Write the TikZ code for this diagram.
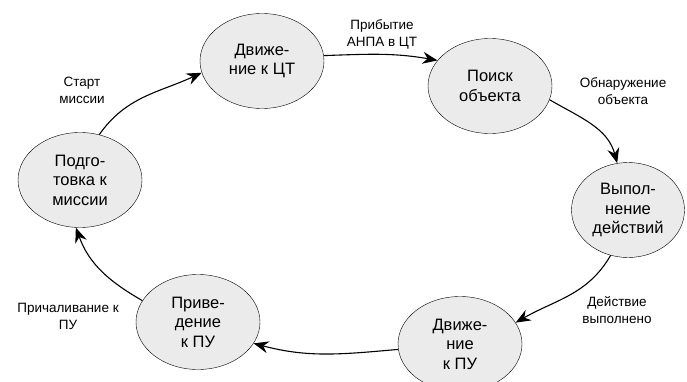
\documentclass[tikz,border=0pt]{standalone}
\usepackage{fontspec}
\setmainfont{Liberation Sans}
\usepackage{tikz}
\usetikzlibrary{arrows.meta, positioning, shapes.geometric}
\definecolor{phasefill}{RGB}{235,235,235}

\begin{document}
\begin{tikzpicture}[
      x=1pt, y=1pt,
      phase/.style={ellipse, draw, thin, fill=phasefill, inner sep=0pt,
                    minimum width=124pt, minimum height=95pt, align=center,
                    font=\fontsize{16.5}{19.5}\selectfont},
      trans/.style={align=center, font=\fontsize{13.5}{17}\selectfont},
      arrow/.style={-{Stealth[length=15pt, width=12pt, inset=5pt]}, line width=1.1pt}
    ]
    \useasboundingbox (0,0) rectangle (687,381);

    \node[phase] (prep) at (80,201) {Подго-\\товка к\\миссии};
    \node[phase] (gotarget) at (262,320) {Движе-\\ние к ЦТ};
    \node[phase] (search) at (490,295) {Поиск\\объекта};
    \node[phase, minimum width=113pt] (action) at (628,171) {Выпол-\\нение\\действий};
    \node[phase] (gobase) at (460,37) {Движе-\\ние\\к ПУ};
    \node[phase] (dock) at (198,59) {Приве-\\дение\\к ПУ};

    \draw[arrow] (prep.67) to[out=55, in=205] (gotarget.191);
    \draw[arrow] (gotarget.5) to[out=2, in=170] (search.154);
    \draw[arrow] (search.347) to[out=-30, in=105] (action.103);
    \draw[arrow] (action.249) to[out=240, in=30] (gobase.21);
    \draw[arrow] (gobase.185) to[out=185, in=-15] (dock.339);
    \draw[arrow] (dock.159) to[out=150, in=-70] (prep.265);

    \node[trans] (lstart) at (82,290.5) {Старт\\миссии};
    \node[trans] (larrive) at (382,347) {Прибытие\\АНПА в ЦТ};
    \node[trans] (lfound) at (623,290) {Обнаружение\\объекта};
    \node[trans] (ldone) at (617,71) {Действие\\выполнено};
    \node[trans] (lmoor) at (68,65) {Причаливание к\\ПУ};
\end{tikzpicture}
\end{document}
